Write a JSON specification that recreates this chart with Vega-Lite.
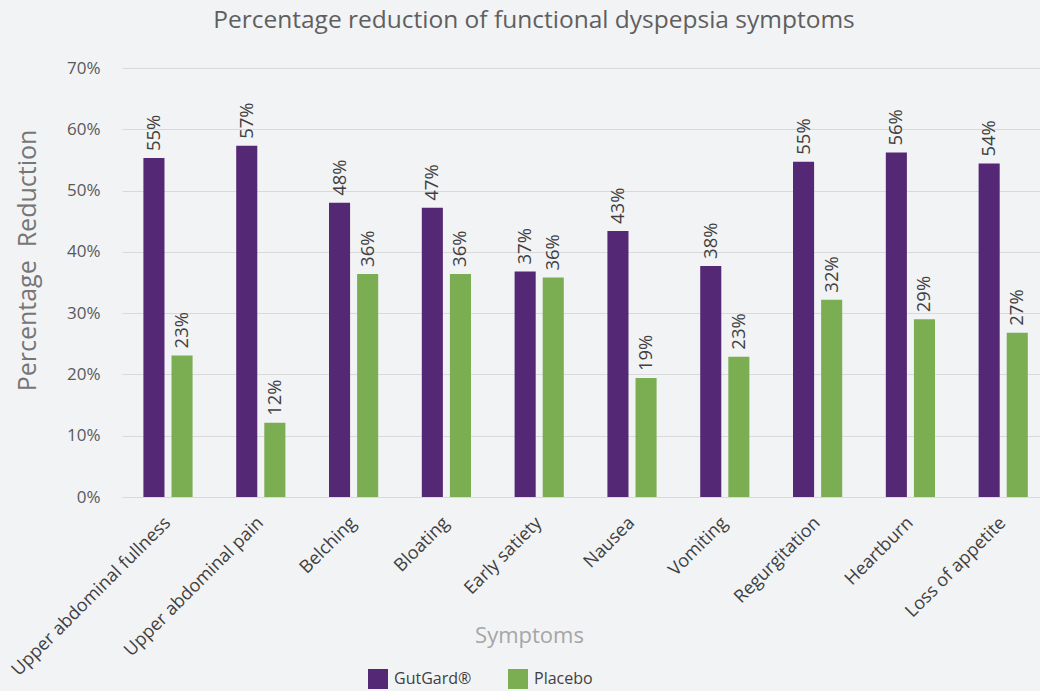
{
  "$schema": "https://vega.github.io/schema/vega-lite/v6.json",
  "background": "#f2f3f5",
  "autosize": "none",
  "width": 918,
  "height": 429,
  "padding": {"left": 122, "top": 68, "right": 0, "bottom": 194},
  "title": {
    "text": "Percentage reduction of functional dyspepsia symptoms",
    "font": "Open Sans",
    "fontSize": 24.5,
    "fontWeight": "normal",
    "color": "#5f5f5f",
    "anchor": "middle",
    "dx": -47,
    "offset": 26
  },
  "data": {
    "values": [
      {"symptom": "Upper abdominal fullness", "group": "GutGard®", "value": 0.553},
      {"symptom": "Upper abdominal fullness", "group": "Placebo", "value": 0.231},
      {"symptom": "Upper abdominal pain", "group": "GutGard®", "value": 0.573},
      {"symptom": "Upper abdominal pain", "group": "Placebo", "value": 0.121},
      {"symptom": "Belching", "group": "GutGard®", "value": 0.480},
      {"symptom": "Belching", "group": "Placebo", "value": 0.364},
      {"symptom": "Bloating", "group": "GutGard®", "value": 0.472},
      {"symptom": "Bloating", "group": "Placebo", "value": 0.364},
      {"symptom": "Early satiety", "group": "GutGard®", "value": 0.368},
      {"symptom": "Early satiety", "group": "Placebo", "value": 0.358},
      {"symptom": "Nausea", "group": "GutGard®", "value": 0.434},
      {"symptom": "Nausea", "group": "Placebo", "value": 0.194},
      {"symptom": "Vomiting", "group": "GutGard®", "value": 0.377},
      {"symptom": "Vomiting", "group": "Placebo", "value": 0.229},
      {"symptom": "Regurgitation", "group": "GutGard®", "value": 0.547},
      {"symptom": "Regurgitation", "group": "Placebo", "value": 0.322},
      {"symptom": "Heartburn", "group": "GutGard®", "value": 0.562},
      {"symptom": "Heartburn", "group": "Placebo", "value": 0.290},
      {"symptom": "Loss of appetite", "group": "GutGard®", "value": 0.544},
      {"symptom": "Loss of appetite", "group": "Placebo", "value": 0.268}
    ]
  },
  "encoding": {
    "x": {
      "field": "symptom",
      "type": "nominal",
      "sort": null,
      "scale": {"paddingInner": 0.47, "paddingOuter": 0.181, "align": 0.637},
      "axis": {
        "title": "Symptoms",
        "titleFont": "Open Sans",
        "titleFontSize": 22,
        "titleFontWeight": "normal",
        "titleColor": "#a6a6a6",
        "titleX": 407,
        "titleY": 145,
        "titleBaseline": "alphabetic",
        "labelAngle": -45,
        "labelAlign": "right",
        "labelBaseline": "middle",
        "labelFont": "Open Sans",
        "labelFontSize": 18,
        "labelColor": "#404040",
        "labelPadding": 23,
        "labelLimit": 300,
        "domain": false,
        "ticks": false
      }
    },
    "xOffset": {
      "field": "group",
      "type": "nominal",
      "scale": {"paddingInner": 0.25, "paddingOuter": 0}
    },
    "y": {
      "field": "value",
      "type": "quantitative",
      "scale": {"domain": [0, 0.7]},
      "axis": {
        "title": "Percentage\u00a0 Reduction",
        "titleFont": "Open Sans",
        "titleFontSize": 25,
        "titleFontWeight": "normal",
        "titleColor": "#767676",
        "titleX": -87,
        "titleY": 192,
        "titleBaseline": "alphabetic",
        "titleAlign": "center",
        "titleAngle": -90,
        "values": [0, 0.1, 0.2, 0.3, 0.4, 0.5, 0.6, 0.7],
        "format": ".0%",
        "labelFont": "Open Sans",
        "labelFontSize": 17,
        "labelColor": "#595959",
        "labelPadding": 22,
        "domain": false,
        "ticks": false,
        "grid": true,
        "gridColor": "#d9d9d9",
        "gridWidth": 1
      }
    },
    "color": {
      "field": "group",
      "type": "nominal",
      "scale": {"domain": ["GutGard®", "Placebo"], "range": ["#552875", "#7bae52"]},
      "legend": {
        "title": null,
        "orient": "none",
        "direction": "horizontal",
        "legendX": 246,
        "legendY": 601,
        "symbolType": "square",
        "symbolSize": 400,
        "symbolStrokeWidth": 0,
        "symbolOpacity": 1,
        "labelFont": "Open Sans",
        "labelFontSize": 16,
        "labelColor": "#404040",
        "labelOffset": 6,
        "columnPadding": 36
      }
    }
  },
  "layer": [
    {"mark": {"type": "bar", "opacity": 1}},
    {
      "mark": {
        "type": "text",
        "angle": -90,
        "align": "left",
        "baseline": "middle",
        "dx": 7,
        "font": "Open Sans",
        "fontSize": 18.5,
        "color": "#404040"
      },
      "encoding": {
        "text": {"field": "value", "type": "quantitative", "format": ".0%"},
        "color": {"value": "#404040"}
      }
    }
  ],
  "config": {
    "view": {"stroke": null}
  }
}
